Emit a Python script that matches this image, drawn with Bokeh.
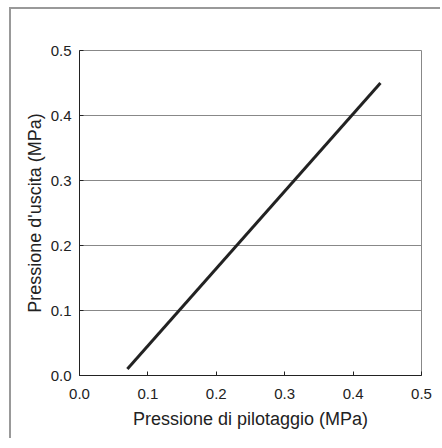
from bokeh.plotting import figure
from bokeh.models import FixedTicker, PrintfTickFormatter, Range1d
from bokeh.embed import file_html
from bokeh.resources import INLINE

# data
pilot_pressure = [0.07, 0.44]
output_pressure = [0.01, 0.45]
ticks = [0.0, 0.1, 0.2, 0.3, 0.4, 0.5]

p = figure(width=431, height=431, output_backend="svg", toolbar_location=None,
           x_range=Range1d(0, 0.5), y_range=Range1d(0, 0.5),
           min_border_left=68, min_border_right=21, min_border_top=41, min_border_bottom=65)
p.styles = {"border-left": "2px solid #999999", "border-top": "2px solid #999999",
            "margin-left": "9px", "margin-top": "7px"}

p.line(pilot_pressure, output_pressure, line_width=3, line_color="#222222")

font = "Liberation Sans"
for ax in (p.xaxis[0], p.yaxis[0]):
    ax.ticker = FixedTicker(ticks=ticks)
    ax.formatter = PrintfTickFormatter(format="%.1f")
    ax.major_tick_in = 4
    ax.major_tick_out = 0
    ax.minor_tick_line_color = None
    ax.axis_line_color = "#222222"
    ax.major_tick_line_color = "#222222"
    ax.major_label_text_font = font
    ax.major_label_text_font_size = "15px"
    ax.major_label_text_color = "#222222"
    ax.axis_label_text_font = font
    ax.axis_label_text_font_size = "18px"
    ax.axis_label_text_font_style = "normal"
    ax.axis_label_text_color = "#222222"

p.xaxis.major_label_standoff = 13
p.yaxis.major_label_standoff = 8
p.xaxis.axis_label = "Pressione di pilotaggio (MPa)"
p.yaxis.axis_label = "Pressione d'uscita (MPa)"
p.xaxis.axis_label_standoff = 7
p.yaxis.axis_label_standoff = 3

p.xgrid.grid_line_color = None
p.ygrid.grid_line_color = "#888888"
p.ygrid.grid_line_width = 1
p.outline_line_color = "#888888"
p.outline_line_width = 1

open("out.html", "w").write(file_html(p, INLINE))
